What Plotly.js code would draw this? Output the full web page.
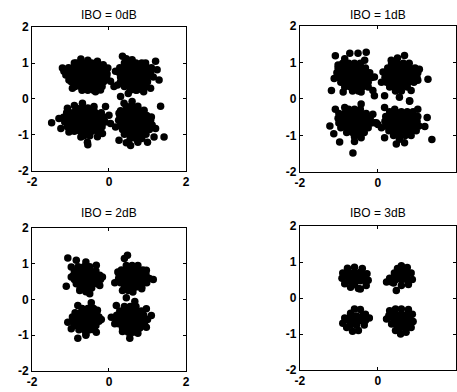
<!DOCTYPE html>
<html><head><meta charset="utf-8">
<script src="https://cdn.plot.ly/plotly-3.0.1.min.js"></script>
<style>html,body{margin:0;padding:0;background:#fff}#chart{width:457px;height:392px}</style>
</head><body><div id="chart"></div>
<script>
// Panel titles
const titles = ["IBO = 0dB", "IBO = 1dB", "IBO = 2dB", "IBO = 3dB"];
const xTicks = [-2, 0, 2];
const yTicks = [-2, -1, 0, 1, 2];

// Received constellation points (I, Q)
const ibo0 = [
 // upper-left cluster
 [-1.21,0.86],[-1.17,0.77],[-0.73,1.11],[-0.30,1.05],[-0.03,0.86],[0.04,0.49],[0.13,0.35],[-0.22,0.25],[-0.95,0.30],[-1.04,0.53],[-1.12,0.67],[-0.55,1.08],[-0.85,1.0],[-0.15,0.95],[-0.05,0.7],[-0.35,0.2],
 [-0.9,1.0],[-0.75,1.0],[-0.6,1.0],[-0.45,1.0],[-0.3,1.0],
 [-1.05,0.87],[-0.92,0.87],[-0.78,0.87],[-0.63,0.87],[-0.48,0.87],[-0.34,0.87],[-0.2,0.87],
 [-1.08,0.74],[-0.95,0.74],[-0.8,0.74],[-0.66,0.74],[-0.52,0.74],[-0.38,0.74],[-0.24,0.74],[-0.1,0.74],
 [-1.02,0.61],[-0.88,0.61],[-0.74,0.61],[-0.6,0.61],[-0.46,0.61],[-0.32,0.61],[-0.18,0.61],[-0.06,0.61],
 [-0.98,0.48],[-0.84,0.48],[-0.7,0.48],[-0.56,0.48],[-0.42,0.48],[-0.28,0.48],[-0.14,0.48],
 [-0.88,0.35],[-0.74,0.35],[-0.6,0.35],[-0.46,0.35],[-0.32,0.35],[-0.18,0.35],
 [-0.7,0.24],[-0.55,0.24],[-0.4,0.24],
 // upper-right cluster
 [0.35,1.19],[0.60,1.09],[1.21,1.05],[1.25,0.81],[1.30,0.53],[1.08,0.30],[0.30,0.07],[0.22,0.39],[0.17,0.77],[0.73,0.25],[0.45,1.12],[0.95,1.0],[0.9,0.2],[0.5,0.15],
 [0.4,1.0],[0.55,1.0],[0.7,1.0],[0.85,1.0],
 [0.28,0.87],[0.42,0.87],[0.56,0.87],[0.7,0.87],[0.84,0.87],[0.98,0.87],[1.1,0.87],
 [0.25,0.74],[0.39,0.74],[0.53,0.74],[0.67,0.74],[0.81,0.74],[0.95,0.74],[1.08,0.74],
 [0.3,0.61],[0.44,0.61],[0.58,0.61],[0.72,0.61],[0.86,0.61],[1.0,0.61],[1.15,0.61],
 [0.3,0.48],[0.44,0.48],[0.58,0.48],[0.72,0.48],[0.86,0.48],[1.0,0.48],
 [0.4,0.35],[0.54,0.35],[0.68,0.35],[0.82,0.35],[0.96,0.35],
 [0.55,0.24],[0.7,0.24],
 // lower-left cluster
 [-1.49,-0.66],[-1.30,-0.54],[-1.08,-0.26],[-0.69,-0.12],[-0.39,-0.21],[-0.09,-0.21],[0.04,-0.68],[-0.17,-0.96],[-0.56,-1.20],[-0.73,-1.06],[-1.04,-0.92],[-1.25,-0.82],[-0.55,-1.27],[0.0,-0.45],[-0.3,-1.05],[-0.9,-0.18],
 [-0.85,-0.25],[-0.7,-0.25],[-0.55,-0.25],[-0.4,-0.25],
 [-1.1,-0.38],[-0.95,-0.38],[-0.8,-0.38],[-0.65,-0.38],[-0.5,-0.38],[-0.35,-0.38],[-0.2,-0.38],
 [-1.18,-0.51],[-1.03,-0.51],[-0.88,-0.51],[-0.73,-0.51],[-0.58,-0.51],[-0.43,-0.51],[-0.28,-0.51],[-0.13,-0.51],
 [-1.15,-0.64],[-1.0,-0.64],[-0.85,-0.64],[-0.7,-0.64],[-0.55,-0.64],[-0.4,-0.64],[-0.25,-0.64],[-0.1,-0.64],
 [-1.08,-0.77],[-0.93,-0.77],[-0.78,-0.77],[-0.63,-0.77],[-0.48,-0.77],[-0.33,-0.77],[-0.18,-0.77],
 [-0.9,-0.9],[-0.75,-0.9],[-0.6,-0.9],[-0.45,-0.9],[-0.3,-0.9],
 [-0.65,-1.02],[-0.5,-1.02],
 // lower-right cluster
 [0.39,-0.12],[0.60,-0.07],[0.91,-0.31],[1.34,-0.20],[1.21,-0.82],[1.43,-1.06],[1.17,-1.06],[1.0,-1.2],[0.56,-1.29],[0.26,-1.15],[0.17,-0.78],[0.26,-0.40],[0.75,-1.2],[1.1,-0.5],[0.45,-1.22],
 [0.45,-0.2],[0.6,-0.2],[0.75,-0.2],
 [0.3,-0.33],[0.45,-0.33],[0.6,-0.33],[0.75,-0.33],[0.9,-0.33],
 [0.28,-0.46],[0.42,-0.46],[0.56,-0.46],[0.7,-0.46],[0.84,-0.46],[0.98,-0.46],
 [0.25,-0.59],[0.39,-0.59],[0.53,-0.59],[0.67,-0.59],[0.81,-0.59],[0.95,-0.59],[1.08,-0.59],
 [0.3,-0.72],[0.44,-0.72],[0.58,-0.72],[0.72,-0.72],[0.86,-0.72],[1.0,-0.72],[1.12,-0.72],
 [0.35,-0.85],[0.49,-0.85],[0.63,-0.85],[0.77,-0.85],[0.91,-0.85],[1.05,-0.85],
 [0.4,-0.98],[0.54,-0.98],[0.68,-0.98],[0.82,-0.98],[0.96,-0.98],
 [0.55,-1.1],[0.7,-1.1],[0.85,-1.1]
];

const ibo1 = [
 // upper-left
 [-1.09,1.18],[-0.72,1.25],[-0.51,1.25],[-0.30,1.28],[-0.34,1.06],[-0.09,0.60],[-0.13,0.23],[-0.43,0.19],[-0.89,0.19],[-1.19,0.23],[-1.12,0.56],[-1.02,0.93],[-0.09,0.09],[-0.85,1.1],
 [-0.9,0.98],[-0.75,0.98],[-0.6,0.98],[-0.45,0.98],
 [-1.02,0.85],[-0.88,0.85],[-0.74,0.85],[-0.6,0.85],[-0.46,0.85],[-0.32,0.85],
 [-1.05,0.72],[-0.91,0.72],[-0.77,0.72],[-0.63,0.72],[-0.49,0.72],[-0.35,0.72],[-0.21,0.72],
 [-1.0,0.59],[-0.86,0.59],[-0.72,0.59],[-0.58,0.59],[-0.44,0.59],[-0.3,0.59],[-0.16,0.59],
 [-0.95,0.46],[-0.81,0.46],[-0.67,0.46],[-0.53,0.46],[-0.39,0.46],[-0.25,0.46],
 [-0.85,0.33],[-0.7,0.33],[-0.55,0.33],[-0.4,0.33],[-0.25,0.33],
 [-0.65,0.22],[-0.5,0.22],
 // upper-right
 [0.68,1.19],[0.34,1.06],[0.13,0.74],[0.09,0.46],[0.17,0.09],[0.85,0.23],[1.06,0.81],[1.02,0.51],[0.81,-0.06],[0.55,0.05],[1.28,0.54],[0.5,1.12],
 [0.35,0.98],[0.5,0.98],[0.65,0.98],[0.8,0.98],
 [0.25,0.85],[0.39,0.85],[0.53,0.85],[0.67,0.85],[0.81,0.85],[0.95,0.85],
 [0.2,0.72],[0.34,0.72],[0.48,0.72],[0.62,0.72],[0.76,0.72],[0.9,0.72],[1.02,0.72],
 [0.18,0.59],[0.32,0.59],[0.46,0.59],[0.6,0.59],[0.74,0.59],[0.88,0.59],[1.0,0.59],
 [0.22,0.46],[0.36,0.46],[0.5,0.46],[0.64,0.46],[0.78,0.46],[0.92,0.46],
 [0.3,0.33],[0.45,0.33],[0.6,0.33],[0.75,0.33],
 [0.45,0.22],[0.6,0.22],
 // lower-left
 [-1.09,-0.28],[-0.85,-0.23],[-0.43,-0.14],[-0.13,-0.42],[-0.09,-0.65],[-0.43,-1.06],[-0.60,-1.16],[-0.98,-1.18],[-1.13,-0.95],[-1.23,-0.74],[-0.64,-1.48],[0.0,-0.7],
 [-0.75,-0.28],[-0.6,-0.28],[-0.45,-0.28],
 [-1.0,-0.4],[-0.86,-0.4],[-0.72,-0.4],[-0.58,-0.4],[-0.44,-0.4],[-0.3,-0.4],
 [-1.02,-0.53],[-0.88,-0.53],[-0.74,-0.53],[-0.6,-0.53],[-0.46,-0.53],[-0.32,-0.53],[-0.2,-0.53],
 [-1.0,-0.66],[-0.86,-0.66],[-0.72,-0.66],[-0.58,-0.66],[-0.44,-0.66],[-0.3,-0.66],[-0.18,-0.66],
 [-0.95,-0.79],[-0.81,-0.79],[-0.67,-0.79],[-0.53,-0.79],[-0.39,-0.79],[-0.25,-0.79],
 [-0.8,-0.92],[-0.65,-0.92],[-0.5,-0.92],[-0.35,-0.92],
 [-0.6,-1.03],
 // lower-right
 [0.17,-0.23],[0.43,-0.28],[0.81,-0.05],[1.02,-0.28],[1.26,-0.51],[1.38,-1.11],[0.68,-1.20],[0.47,-1.23],[0.17,-1.06],[0.09,-0.79],[-0.04,-0.65],[1.2,-0.75],
 [0.3,-0.35],[0.45,-0.35],[0.6,-0.35],[0.75,-0.35],[0.9,-0.35],
 [0.2,-0.48],[0.34,-0.48],[0.48,-0.48],[0.62,-0.48],[0.76,-0.48],[0.9,-0.48],[1.02,-0.48],
 [0.18,-0.61],[0.32,-0.61],[0.46,-0.61],[0.6,-0.61],[0.74,-0.61],[0.88,-0.61],[1.0,-0.61],
 [0.2,-0.74],[0.34,-0.74],[0.48,-0.74],[0.62,-0.74],[0.76,-0.74],[0.9,-0.74],[1.05,-0.74],
 [0.28,-0.87],[0.42,-0.87],[0.56,-0.87],[0.7,-0.87],[0.84,-0.87],[0.98,-0.87],
 [0.4,-1.0],[0.55,-1.0],[0.7,-1.0],[0.85,-1.0],
 [0.55,-1.1]
];

const ibo2 = [
 // upper-left
 [-1.07,1.16],[-0.85,1.10],[-0.33,0.96],[-0.17,0.63],[-0.24,0.39],[-0.50,0.16],[-0.76,0.25],[-1.11,0.37],[-0.98,0.63],[-0.98,0.91],[-0.6,1.05],
 [-0.8,0.92],[-0.65,0.92],[-0.5,0.92],
 [-0.9,0.8],[-0.76,0.8],[-0.62,0.8],[-0.48,0.8],[-0.34,0.8],
 [-0.92,0.68],[-0.78,0.68],[-0.64,0.68],[-0.5,0.68],[-0.36,0.68],[-0.24,0.68],
 [-0.9,0.56],[-0.76,0.56],[-0.62,0.56],[-0.48,0.56],[-0.34,0.56],[-0.22,0.56],
 [-0.85,0.44],[-0.71,0.44],[-0.57,0.44],[-0.43,0.44],[-0.3,0.44],
 [-0.75,0.32],[-0.6,0.32],[-0.45,0.32],
 [-0.6,0.22],
 // upper-right
 [0.48,1.24],[1.15,0.56],[0.97,0.82],[0.15,0.47],[0.23,0.77],[0.62,0.21],[0.4,1.15],[0.85,0.3],[0.35,0.25],
 [0.45,0.95],[0.6,0.95],[0.75,0.95],
 [0.32,0.83],[0.46,0.83],[0.6,0.83],[0.74,0.83],[0.88,0.83],
 [0.26,0.71],[0.4,0.71],[0.54,0.71],[0.68,0.71],[0.82,0.71],[0.96,0.71],
 [0.25,0.59],[0.39,0.59],[0.53,0.59],[0.67,0.59],[0.81,0.59],[0.95,0.59],[1.05,0.59],
 [0.3,0.47],[0.44,0.47],[0.58,0.47],[0.72,0.47],[0.86,0.47],[0.98,0.47],
 [0.4,0.35],[0.55,0.35],[0.7,0.35],[0.85,0.35],
 [0.5,0.25],
 // lower-left
 [-1.07,-0.64],[-0.81,-0.17],[-0.46,-0.09],[-0.20,-0.56],[-0.33,-0.92],[-0.81,-1.09],[-0.98,-0.82],[-0.3,-0.3],[-0.6,-1.0],
 [-0.7,-0.25],[-0.55,-0.25],[-0.4,-0.25],
 [-0.88,-0.37],[-0.74,-0.37],[-0.6,-0.37],[-0.46,-0.37],[-0.32,-0.37],
 [-0.95,-0.49],[-0.81,-0.49],[-0.67,-0.49],[-0.53,-0.49],[-0.39,-0.49],[-0.26,-0.49],
 [-0.95,-0.61],[-0.81,-0.61],[-0.67,-0.61],[-0.53,-0.61],[-0.39,-0.61],[-0.26,-0.61],
 [-0.9,-0.73],[-0.76,-0.73],[-0.62,-0.73],[-0.48,-0.73],[-0.34,-0.73],
 [-0.78,-0.85],[-0.64,-0.85],[-0.5,-0.85],[-0.38,-0.85],
 [-0.6,-0.96],
 // lower-right
 [0.45,0.05],[0.67,-0.06],[0.97,-0.26],[1.10,-0.45],[0.97,-0.78],[0.54,-1.09],[0.15,-0.68],[0.06,-0.50],[0.19,-0.17],[0.75,-0.95],[0.35,-0.9],
 [0.4,-0.2],[0.55,-0.2],[0.7,-0.2],
 [0.28,-0.32],[0.42,-0.32],[0.56,-0.32],[0.7,-0.32],[0.84,-0.32],
 [0.2,-0.44],[0.34,-0.44],[0.48,-0.44],[0.62,-0.44],[0.76,-0.44],[0.9,-0.44],
 [0.18,-0.56],[0.32,-0.56],[0.46,-0.56],[0.6,-0.56],[0.74,-0.56],[0.88,-0.56],[1.0,-0.56],
 [0.25,-0.68],[0.39,-0.68],[0.53,-0.68],[0.67,-0.68],[0.81,-0.68],[0.92,-0.68],
 [0.35,-0.8],[0.5,-0.8],[0.65,-0.8],[0.8,-0.8],
 [0.5,-0.92],[0.62,-0.92]
];

const ibo3 = [
 // upper-left
 [-0.9,0.7],[-0.92,0.55],[-0.85,0.4],[-0.7,0.3],[-0.5,0.27],[-0.3,0.35],[-0.25,0.5],[-0.28,0.68],[-0.4,0.82],[-0.6,0.86],[-0.78,0.83],[-0.45,0.25],
 [-0.75,0.72],[-0.6,0.72],[-0.45,0.72],
 [-0.78,0.6],[-0.64,0.6],[-0.5,0.6],[-0.36,0.6],
 [-0.75,0.48],[-0.6,0.48],[-0.45,0.48],[-0.32,0.48],
 [-0.6,0.38],
 // upper-right
 [0.6,0.9],[0.75,0.85],[0.85,0.7],[0.88,0.52],[0.78,0.38],[0.6,0.35],[0.4,0.42],[0.22,0.45],[0.3,0.55],[0.42,0.7],[0.5,0.82],[0.47,0.21],[0.35,0.45],
 [0.55,0.75],[0.7,0.75],
 [0.45,0.63],[0.6,0.63],[0.74,0.63],
 [0.45,0.51],[0.6,0.51],[0.74,0.51],
 // lower-left
 [-0.9,-0.7],[-0.85,-0.55],[-0.7,-0.42],[-0.6,-0.3],[-0.45,-0.32],[-0.32,-0.45],[-0.22,-0.55],[-0.35,-0.75],[-0.5,-0.9],[-0.65,-0.92],[-0.8,-0.82],
 [-0.7,-0.5],[-0.55,-0.5],[-0.4,-0.5],
 [-0.75,-0.62],[-0.6,-0.62],[-0.45,-0.62],[-0.32,-0.62],
 [-0.7,-0.75],[-0.55,-0.75],
 // lower-right
 [0.3,-0.35],[0.45,-0.3],[0.6,-0.3],[0.78,-0.32],[0.88,-0.45],[0.9,-0.65],[0.85,-0.82],[0.72,-0.95],[0.58,-1.0],[0.45,-0.9],[0.35,-0.72],[0.22,-0.58],[0.28,-0.48],
 [0.45,-0.45],[0.6,-0.45],[0.75,-0.45],
 [0.4,-0.58],[0.55,-0.58],[0.7,-0.58],[0.82,-0.58],
 [0.45,-0.71],[0.6,-0.71],[0.75,-0.71],
 [0.55,-0.84],[0.7,-0.84]
];

const panels = [ibo0, ibo1, ibo2, ibo3];
const axisIds = ["", "2", "3", "4"];

const traces = panels.map((pts, i) => ({
  type: "scatter", mode: "markers",
  x: pts.map(p => p[0]), y: pts.map(p => p[1]),
  xaxis: "x" + axisIds[i], yaxis: "y" + axisIds[i],
  marker: {color: "#000", size: 7.5, line: {width: 0}},
  hoverinfo: "skip", showlegend: false
}));

const xDomains = [[0.070, 0.407], [0.656, 0.998], [0.070, 0.407], [0.656, 0.998]];
const yDomains = [[0.564, 0.931], [0.561, 0.934], [0.054, 0.418], [0.056, 0.423]];

function axis(dom, vals, anchor) {
  return {
    domain: dom, range: [-2, 2], anchor: anchor,
    tickvals: vals, ticktext: vals.map(String),
    showgrid: false, zeroline: false,
    showline: true, mirror: "ticks", linecolor: "#000", linewidth: 1,
    ticks: "inside", ticklen: 3, tickcolor: "#000",
    tickfont: {family: "Liberation Sans, Arial, sans-serif", size: 12, color: "#000", weight: "bold"},
    fixedrange: true
  };
}

const layout = {
  width: 457, height: 392,
  margin: {l: 0, r: 0, t: 0, b: 0},
  paper_bgcolor: "#fff", plot_bgcolor: "#fff",
  showlegend: false,
  annotations: []
};
const titleY = [0.962, 0.962, 0.456, 0.456];
for (let i = 0; i < 4; i++) {
  layout["xaxis" + axisIds[i]] = axis(xDomains[i], xTicks, "y" + axisIds[i]);
  layout["yaxis" + axisIds[i]] = axis(yDomains[i], yTicks, "x" + axisIds[i]);
  layout.annotations.push({
    text: titles[i], xref: "paper", yref: "paper",
    x: (xDomains[i][0] + xDomains[i][1]) / 2, y: titleY[i],
    xanchor: "center", yanchor: "middle", showarrow: false,
    font: {family: "Liberation Sans, Arial, sans-serif", size: 12, color: "#000"}
  });
}

Plotly.newPlot("chart", traces, layout, {staticPlot: true, displayModeBar: false});
</script>
</body></html>
